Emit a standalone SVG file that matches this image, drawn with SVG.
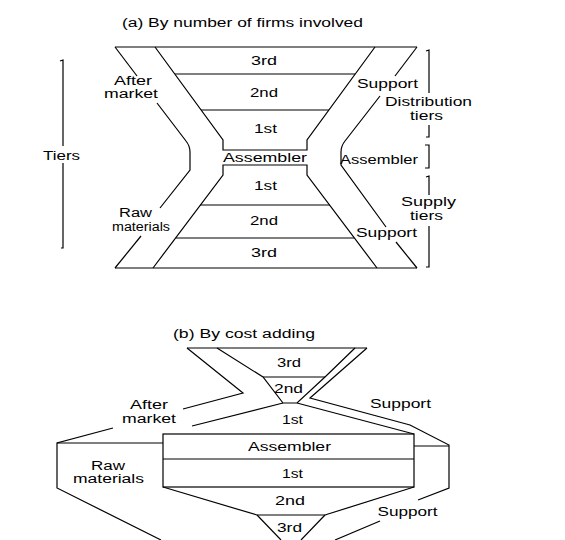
<svg xmlns="http://www.w3.org/2000/svg" width="565" height="540" viewBox="0 0 565 540">
  <style>
    .ln { fill: none; stroke: #000; stroke-width: 1.2; stroke-linejoin: miter; }
    text { font-family: "Liberation Sans", Arial, sans-serif; font-size: 12px; fill: #000; text-anchor: middle; }
  </style>
  <rect width="565" height="540" fill="#fff"/>

  <!-- (a) By number of firms involved -->
  <g id="title-a">
    <text x="242.5" y="27" textLength="241" lengthAdjust="spacingAndGlyphs">(a) By number of firms involved</text>
  </g>

  <g id="connectors-a" class="ln">
    <!-- outer hourglass -->
    <path d="M115,47 H417"/>
    <path d="M115,268 H417"/>
    <path d="M115,47 L137,76"/>
    <path d="M157,103 L186,141 Q190,146 190,152 V170 L160,208"/>
    <path d="M141,236 L115,268"/>
    <path d="M417,47 L395,76"/>
    <path d="M380,96 L345,141 Q341,146 341,152 V165 L386,227"/>
    <path d="M396,242 L417,268"/>
    <!-- inner funnel -->
    <path d="M155,47 L223,140 V150 H307 V140 L375,47"/>
    <path d="M153,268 L223,175 V165 H307 V175 L377,268"/>
    <!-- tier dividers -->
    <path d="M175,74 H355"/>
    <path d="M201,110 H329"/>
    <path d="M200,205 H330"/>
    <path d="M176,238 H354"/>
    <!-- left bracket -->
    <path d="M60,61 L63,60 V146"/>
    <path d="M63,163 V248 H61"/>
    <!-- right brackets -->
    <path d="M426,51 L429,50 V93"/>
    <path d="M429,125 V137 H426"/>
    <path d="M425,145 H429 V168 H425"/>
    <path d="M426,177 L429,176 V195"/>
    <path d="M429,226 V267 H426"/>
  </g>

  <g id="tier-a-3rd-up"><text x="264" y="65" textLength="26" lengthAdjust="spacingAndGlyphs">3rd</text></g>
  <g id="tier-a-2nd-up"><text x="264" y="97" textLength="28" lengthAdjust="spacingAndGlyphs">2nd</text></g>
  <g id="tier-a-1st-up"><text x="265.5" y="133" textLength="23" lengthAdjust="spacingAndGlyphs">1st</text></g>
  <g id="tier-a-assembler"><text x="265" y="162" textLength="84" lengthAdjust="spacingAndGlyphs">Assembler</text></g>
  <g id="tier-a-1st-down"><text x="265.5" y="190" textLength="23" lengthAdjust="spacingAndGlyphs">1st</text></g>
  <g id="tier-a-2nd-down"><text x="264" y="225" textLength="28" lengthAdjust="spacingAndGlyphs">2nd</text></g>
  <g id="tier-a-3rd-down"><text x="264" y="257" textLength="26" lengthAdjust="spacingAndGlyphs">3rd</text></g>

  <g id="label-a-aftermarket">
    <text x="133" y="85" textLength="38" lengthAdjust="spacingAndGlyphs">After</text>
    <text x="131" y="98" textLength="54" lengthAdjust="spacingAndGlyphs">market</text>
  </g>
  <g id="label-a-raw">
    <text x="135.5" y="217" textLength="33" lengthAdjust="spacingAndGlyphs">Raw</text>
    <text x="141" y="231" textLength="58" lengthAdjust="spacingAndGlyphs">materials</text>
  </g>
  <g id="label-a-tiers"><text x="61.5" y="160" textLength="37" lengthAdjust="spacingAndGlyphs">Tiers</text></g>
  <g id="label-a-support-up"><text x="387.5" y="88" textLength="61" lengthAdjust="spacingAndGlyphs">Support</text></g>
  <g id="label-a-distribution">
    <text x="428.5" y="106" textLength="87" lengthAdjust="spacingAndGlyphs">Distribution</text>
    <text x="426.5" y="120" textLength="33" lengthAdjust="spacingAndGlyphs">tiers</text>
  </g>
  <g id="label-a-assembler-right"><text x="379" y="164" textLength="78" lengthAdjust="spacingAndGlyphs">Assembler</text></g>
  <g id="label-a-supply">
    <text x="428.5" y="206" textLength="55" lengthAdjust="spacingAndGlyphs">Supply</text>
    <text x="426.5" y="220" textLength="33" lengthAdjust="spacingAndGlyphs">tiers</text>
  </g>
  <g id="label-a-support-down"><text x="386.5" y="237" textLength="61" lengthAdjust="spacingAndGlyphs">Support</text></g>

  <!-- (b) By cost adding -->
  <g id="title-b">
    <text x="244" y="338" textLength="142" lengthAdjust="spacingAndGlyphs">(b) By cost adding</text>
  </g>

  <g id="connectors-b" class="ln">
    <path d="M187,348 H367"/>
    <!-- left outer -->
    <path d="M187,348 L243,393 L183,409"/>
    <path d="M113,428 L57,443 V488 L161,540"/>
    <path d="M57,443 H163"/>
    <!-- upper funnel -->
    <path d="M217,348 L263,377 L283,403 H297 L325,377 L355,348"/>
    <path d="M263,377 H325"/>
    <path d="M283,403 L192,426"/>
    <path d="M297,403 L414,434"/>
    <!-- right outer -->
    <path d="M367,348 L310,398 L410,425 L449,445 V488 L418,500"/>
    <path d="M380,521 L335,540"/>
    <path d="M414,446 H449"/>
    <!-- assembler block -->
    <rect x="163" y="434" width="251" height="53"/>
    <path d="M163,459 H414"/>
    <!-- lower funnel -->
    <path d="M163,487 L257,515 H325 L414,487"/>
    <path d="M257,515 L281,540"/>
    <path d="M325,515 L301,540"/>
  </g>

  <g id="tier-b-3rd-up"><text x="289" y="367" textLength="24" lengthAdjust="spacingAndGlyphs">3rd</text></g>
  <g id="tier-b-2nd-up"><text x="288.5" y="393" textLength="29" lengthAdjust="spacingAndGlyphs">2nd</text></g>
  <g id="tier-b-1st-up"><text x="292.5" y="424" textLength="21" lengthAdjust="spacingAndGlyphs">1st</text></g>
  <g id="tier-b-assembler"><text x="289.5" y="451" textLength="83" lengthAdjust="spacingAndGlyphs">Assembler</text></g>
  <g id="tier-b-1st-down"><text x="292.5" y="478" textLength="21" lengthAdjust="spacingAndGlyphs">1st</text></g>
  <g id="tier-b-2nd-down"><text x="290" y="505" textLength="30" lengthAdjust="spacingAndGlyphs">2nd</text></g>
  <g id="tier-b-3rd-down"><text x="289.5" y="532" textLength="25" lengthAdjust="spacingAndGlyphs">3rd</text></g>

  <g id="label-b-aftermarket">
    <text x="149" y="409" textLength="38" lengthAdjust="spacingAndGlyphs">After</text>
    <text x="149" y="423" textLength="54" lengthAdjust="spacingAndGlyphs">market</text>
  </g>
  <g id="label-b-raw">
    <text x="108" y="470" textLength="34" lengthAdjust="spacingAndGlyphs">Raw</text>
    <text x="108.5" y="483" textLength="71" lengthAdjust="spacingAndGlyphs">materials</text>
  </g>
  <g id="label-b-support-up"><text x="400.5" y="408" textLength="61" lengthAdjust="spacingAndGlyphs">Support</text></g>
  <g id="label-b-support-down"><text x="407.5" y="516" textLength="60" lengthAdjust="spacingAndGlyphs">Support</text></g>
</svg>
